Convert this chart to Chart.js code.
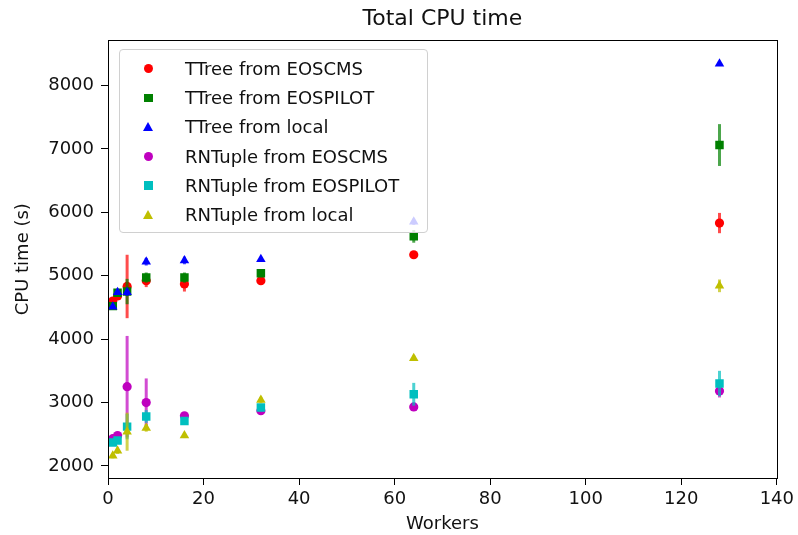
<!DOCTYPE html>
<html>
<head>
<meta charset="utf-8">
<script src="https://cdn.jsdelivr.net/npm/chart.js@4"></script>
<style>
  body { margin: 0; background: #fff; }
  #wrap { position: relative; width: 798px; height: 535px; }
  #legend {
    position: absolute; left: 119px; top: 49px; width: 307px; height: 182px;
    border: 1px solid #d0d0d0; border-radius: 4px; background: rgba(255,255,255,0.8);
    font-family: 'DejaVu Sans', sans-serif; font-size: 18px; color: #111;
  }
  .row { position: absolute; left: 0; height: 29px; line-height: 29px; white-space: nowrap; }
  .row span { position: absolute; left: 65px; top: 0; }
  .mk { position: absolute; }
</style>
</head>
<body>
<div id="wrap">
  <canvas id="cpu-chart" width="798" height="535"></canvas>
  <div id="legend"></div>
</div>
<script>
const workers = [1, 2, 4, 8, 16, 32, 64, 128];
const xTicks = [0, 20, 40, 60, 80, 100, 120, 140];
const yTicks = [2000, 3000, 4000, 5000, 6000, 7000, 8000];

const ttreeEoscms = [4600, 4680, 4830, 4920, 4870, 4920, 5330, 5830];
const ttreeEoscmsErr = [50, 50, 500, 100, 120, 50, 50, 160];
const ttreeEospilot = [4520, 4730, 4750, 4970, 4970, 5040, 5620, 7060];
const ttreeEospilotErr = [30, 30, 200, 80, 80, 60, 100, 330];
const ttreeLocal = [4510, 4740, 4740, 5220, 5240, 5260, 5850, 8340];
const ttreeLocalErr = [20, 20, 60, 60, 60, 30, 50, 30];

const rntupleEoscms = [2430, 2480, 3250, 3000, 2790, 2870, 2930, 3180];
const rntupleEoscmsErr = [30, 40, 800, 380, 50, 40, 50, 100];
const rntupleEospilot = [2370, 2400, 2620, 2780, 2710, 2920, 3130, 3300];
const rntupleEospilotErr = [40, 50, 200, 100, 60, 60, 180, 200];
const rntupleLocal = [2160, 2240, 2540, 2600, 2480, 3040, 3700, 4840];
const rntupleLocalErr = [40, 50, 300, 60, 40, 50, 40, 100];

const labels = ['TTree from EOSCMS', 'TTree from EOSPILOT', 'TTree from local',
  'RNTuple from EOSCMS', 'RNTuple from EOSPILOT', 'RNTuple from local'];
const values = [ttreeEoscms, ttreeEospilot, ttreeLocal, rntupleEoscms, rntupleEospilot, rntupleLocal];
const errors = [ttreeEoscmsErr, ttreeEospilotErr, ttreeLocalErr, rntupleEoscmsErr, rntupleEospilotErr, rntupleLocalErr];
const colors = ['#ff0000', '#008000', '#0000ff', '#bf00bf', '#00bfbf', '#bfbf00'];
const markers = ['circle', 'rect', 'triangle', 'circle', 'rect', 'triangle'];
const radius = { circle: 4.6, rect: 6, triangle: 5.5 };

Chart.defaults.font.family = 'DejaVu Sans';
Chart.defaults.color = '#111';

// error bars, drawn just before each dataset's markers (like matplotlib)
const errorBars = {
  id: 'errorBars',
  beforeDatasetDraw(chart, args) {
    const ds = chart.data.datasets[args.index];
    const xs = chart.scales.x, ys = chart.scales.y;
    const ctx = chart.ctx;
    ctx.save();
    ctx.strokeStyle = ds.borderColor;
    ctx.globalAlpha = 0.7;
    ctx.lineWidth = 3;
    ds.data.forEach((p, i) => {
      const e = ds.errors[i];
      const px = xs.getPixelForValue(p.x);
      ctx.beginPath();
      ctx.moveTo(px, ys.getPixelForValue(p.y - e));
      ctx.lineTo(px, ys.getPixelForValue(p.y + e));
      ctx.stroke();
    });
    ctx.restore();
  }
};

const frame = {
  id: 'frame',
  afterDatasetsDraw(chart) {
    const a = chart.chartArea, ctx = chart.ctx;
    ctx.save();
    ctx.strokeStyle = '#000';
    ctx.lineWidth = 1;
    ctx.strokeRect(Math.round(a.left) + 0.5, Math.round(a.top) + 0.5,
      Math.round(a.right - a.left), Math.round(a.bottom - a.top));
    ctx.restore();
  }
};

const datasets = labels.map((label, k) => ({
  label: label,
  data: workers.map((w, i) => ({ x: w, y: values[k][i] })),
  errors: errors[k],
  pointStyle: markers[k],
  pointRadius: radius[markers[k]],
  backgroundColor: colors[k],
  borderColor: colors[k],
  borderWidth: 0,
  order: 6 - k
}));

new Chart(document.getElementById('cpu-chart'), {
  type: 'scatter',
  data: { datasets: datasets },
  plugins: [errorBars, frame],
  options: {
    responsive: false,
    animation: false,
    layout: { padding: { right: 20 } },
    plugins: {
      legend: { display: false },
      tooltip: { enabled: false },
      title: {
        display: true,
        text: 'Total CPU time',
        fullSize: false,
        font: { size: 22, weight: 'normal' },
        padding: { top: 6, bottom: 8 }
      }
    },
    scales: {
      x: {
        type: 'linear', min: 0, max: 140,
        afterBuildTicks(s) { s.ticks = xTicks.map(v => ({ value: v })); },
        ticks: { font: { size: 18 }, padding: 4, callback: v => String(v) },
        grid: { drawOnChartArea: false, tickLength: 7, tickColor: '#000' },
        border: { display: false },
        title: { display: true, text: 'Workers', font: { size: 18 }, padding: { top: 0, bottom: 0 } },
        afterFit(s) { s.height = 57; }
      },
      y: {
        min: 1810, max: 8710,
        afterBuildTicks(s) { s.ticks = yTicks.map(v => ({ value: v })); },
        ticks: { font: { size: 18 }, padding: 7, callback: v => String(v) },
        grid: { drawOnChartArea: false, tickLength: 7, tickColor: '#000' },
        border: { display: false },
        title: { display: true, text: 'CPU time (s)', font: { size: 18 }, padding: { top: 13, bottom: 0 } },
        afterFit(s) { s.width = 108; }
      }
    }
  }
});

// legend box drawn inside the plot area
const legend = document.getElementById('legend');
labels.forEach((label, k) => {
  const row = document.createElement('div');
  row.className = 'row';
  row.style.top = (4 + k * 29.2) + 'px';
  row.style.width = '300px';
  const mk = document.createElement('div');
  mk.className = 'mk';
  if (markers[k] === 'circle') {
    Object.assign(mk.style, { left: '23.5px', top: '10px', width: '9px', height: '9px', borderRadius: '50%', background: colors[k] });
  } else if (markers[k] === 'rect') {
    Object.assign(mk.style, { left: '24px', top: '10.5px', width: '8.5px', height: '8.5px', background: colors[k] });
  } else {
    Object.assign(mk.style, { left: '23px', top: '9.5px', width: '0', height: '0',
      borderLeft: '5px solid transparent', borderRight: '5px solid transparent', borderBottom: '9px solid ' + colors[k] });
  }
  const txt = document.createElement('span');
  txt.textContent = label;
  row.appendChild(mk);
  row.appendChild(txt);
  legend.appendChild(row);
});
</script>
</body>
</html>
